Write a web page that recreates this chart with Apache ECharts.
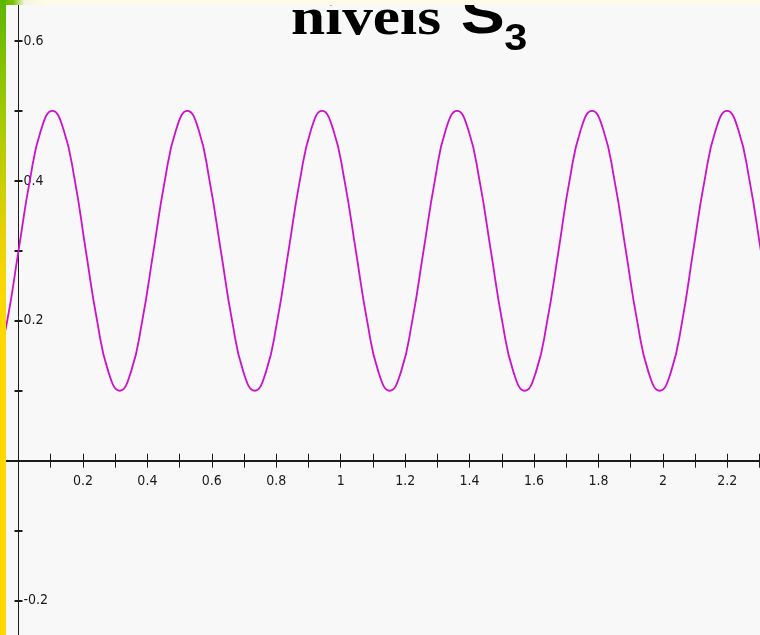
<!DOCTYPE html>
<html>
<head>
<meta charset="utf-8">
<script src="https://cdn.jsdelivr.net/npm/echarts@6/dist/echarts.min.js"></script>
<style>
  html, body { margin: 0; padding: 0; background: #f8f8f8; }
  #chart { width: 760px; height: 635px; }
</style>
</head>
<body>
<div id="chart"></div>
<script>
// ---- data ----
const xValues = [
  -0.070, -0.035,
  0.000, 0.035, 0.070, 0.105, 0.140, 0.175, 0.209, 0.244, 0.279, 0.314, 0.349, 0.384,
  0.419, 0.454, 0.489, 0.524, 0.559, 0.593, 0.628, 0.663, 0.698, 0.733, 0.768, 0.803,
  0.838, 0.873, 0.908, 0.942, 0.977, 1.012, 1.047, 1.082, 1.117, 1.152, 1.187, 1.222,
  1.257, 1.292, 1.326, 1.361, 1.396, 1.431, 1.466, 1.501, 1.536, 1.571, 1.606, 1.641,
  1.676, 1.710, 1.745, 1.780, 1.815, 1.850, 1.885, 1.920, 1.955, 1.990, 2.025, 2.060,
  2.094, 2.129, 2.164, 2.199, 2.234, 2.269, 2.304, 2.339
];
const yValues = [
  0.127, 0.2,
  0.3, 0.4, 0.473, 0.5, 0.473, 0.4, 0.3, 0.2, 0.127, 0.1, 0.127, 0.2,
  0.3, 0.4, 0.473, 0.5, 0.473, 0.4, 0.3, 0.2, 0.127, 0.1, 0.127, 0.2,
  0.3, 0.4, 0.473, 0.5, 0.473, 0.4, 0.3, 0.2, 0.127, 0.1, 0.127, 0.2,
  0.3, 0.4, 0.473, 0.5, 0.473, 0.4, 0.3, 0.2, 0.127, 0.1, 0.127, 0.2,
  0.3, 0.4, 0.473, 0.5, 0.473, 0.4, 0.3, 0.2, 0.127, 0.1, 0.127, 0.2,
  0.3, 0.4, 0.473, 0.5, 0.473, 0.4, 0.3, 0.2
];
const xTickLabels = ['0.2', '0.4', '0.6', '0.8', '1', '1.2', '1.4', '1.6', '1.8', '2', '2.2'];
const yTickLabels = ['-0.2', '0.2', '0.4', '0.6'];
const titleMain = 'níveis';
const titleSymbol = 'S';
const titleSub = '3';

// ---- chart ----
const chart = echarts.init(document.getElementById('chart'), null, { renderer: 'canvas' });

const labelFont = '"Liberation Sans Narrow", "DejaVu Sans Condensed", "Arial Narrow", sans-serif';
function fmt(list) {
  return function (v) {
    const s = String(Math.round(v * 10) / 10);
    return list.indexOf(s) >= 0 ? s : '';
  };
}
const axisColor = '#1c1c1c';
const seriesData = xValues.map((x, i) => [x, yValues[i]]);

// plot geometry (pixels): x=0 at 18.5, y=0 at 460.7
const L = -13.72, R = -31.8, T = -29, B = -35.6;
const ZX = 18.5, ZY = 460.7;
const W = 760, H = 635;

function hiddenAxis(min, max) {
  return { type: 'value', min: min, max: max, interval: 0.1, show: false };
}

const option = {
  backgroundColor: '#f8f8f8',
  animation: false,
  grid: [
    { left: L, right: R, top: T, bottom: B, outerBoundsMode: 'none', containLabel: false },          // 0 data
    { left: L, right: R, top: T, bottom: H - ZY, outerBoundsMode: 'none', containLabel: false },     // 1 upper half
    { left: L, right: R, top: ZY, bottom: B, outerBoundsMode: 'none', containLabel: false },         // 2 lower half
    { left: L, right: W - ZX, top: T, bottom: B, outerBoundsMode: 'none', containLabel: false },     // 3 left part
    { left: ZX, right: R, top: T, bottom: B, outerBoundsMode: 'none', containLabel: false }          // 4 right part
  ],
  xAxis: [
    Object.assign(hiddenAxis(-0.1, 2.4), { gridIndex: 0 }),
    {
      gridIndex: 1, type: 'value', min: -0.1, max: 2.4, interval: 0.1, position: 'bottom',
      axisLine: { show: true, onZero: false, lineStyle: { color: axisColor, width: 2 } },
      axisTick: { show: true, inside: false, length: 7, lineStyle: { color: axisColor, width: 1 } },
      axisLabel: { show: true, margin: 14, formatter: fmt(xTickLabels), color: '#1a1a1a',
                   fontFamily: labelFont, fontSize: 14 },
      splitLine: { show: false }
    },
    {
      gridIndex: 2, type: 'value', min: -0.1, max: 2.4, interval: 0.1, position: 'top',
      axisLine: { show: false, onZero: false },
      axisTick: { show: true, inside: false, length: 7, lineStyle: { color: axisColor, width: 1 } },
      axisLabel: { show: false },
      splitLine: { show: false }
    },
    Object.assign(hiddenAxis(-0.1, 0), { gridIndex: 3 }),
    Object.assign(hiddenAxis(0, 2.4), { gridIndex: 4 })
  ],
  yAxis: [
    Object.assign(hiddenAxis(-0.3, 0.7), { gridIndex: 0 }),
    Object.assign(hiddenAxis(0, 0.7), { gridIndex: 1 }),
    Object.assign(hiddenAxis(-0.3, 0), { gridIndex: 2 }),
    {
      gridIndex: 3, type: 'value', min: -0.3, max: 0.7, interval: 0.1, position: 'right',
      axisLine: { show: true, onZero: false, lineStyle: { color: axisColor, width: 1 } },
      axisTick: { show: true, inside: false, length: 4, lineStyle: { color: axisColor, width: 2 } },
      axisLabel: { show: true, margin: 5, formatter: fmt(yTickLabels), color: '#1a1a1a',
                   fontFamily: labelFont, fontSize: 14 },
      splitLine: { show: false }
    },
    {
      gridIndex: 4, type: 'value', min: -0.3, max: 0.7, interval: 0.1, position: 'left',
      axisLine: { show: false, onZero: false },
      axisTick: { show: true, inside: false, length: 4, lineStyle: { color: axisColor, width: 2 } },
      axisLabel: { show: false },
      splitLine: { show: false }
    }
  ],
  series: [
    {
      type: 'line', xAxisIndex: 0, yAxisIndex: 0,
      data: seriesData, smooth: 0.5, showSymbol: false, symbol: 'none',
      lineStyle: { color: '#cc10cc', width: 1.8 }, clip: true, z: 3
    }
  ],
  graphic: [
    {
      type: 'text', z: 10, x: 291, y: 0, scaleX: 1.18, scaleY: 1,
      style: { text: titleMain, x: 0, y: 20.3, fill: '#000', align: 'left', verticalAlign: 'middle',
               font: 'bold 52px "Liberation Serif", "Times New Roman", serif' }
    },
    {
      type: 'text', z: 10, x: 460.7, y: 0, scaleX: 1.18, scaleY: 1,
      style: { text: titleSymbol, x: 0, y: 17.3, fill: '#000', align: 'left', verticalAlign: 'middle',
               font: 'bold 56px "Liberation Sans", Arial, sans-serif' }
    },
    {
      type: 'text', z: 10, x: 504.3, y: 0, scaleX: 1.15, scaleY: 1,
      style: { text: titleSub, x: 0, y: 40.5, fill: '#000', align: 'left', verticalAlign: 'middle',
               font: 'bold 36px "Liberation Sans", Arial, sans-serif' }
    },
    {
      type: 'rect', z: 20,
      shape: { x: 0, y: 0, width: 760, height: 5 },
      style: { fill: { type: 'linear', x: 0, y: 0, x2: 1, y2: 0, colorStops: [
        { offset: 0, color: '#62b800' }, { offset: 0.017, color: '#7cc000' },
        { offset: 0.032, color: '#f4f6dc' }, { offset: 0.06, color: '#fffbe8' }, { offset: 1, color: '#fffbe8' }
      ] } }
    },
    {
      type: 'rect', z: 21,
      shape: { x: 0, y: 0, width: 6, height: 635 },
      style: { fill: { type: 'linear', x: 0, y: 0, x2: 0, y2: 1, colorStops: [
        { offset: 0, color: '#5cb600' }, { offset: 0.19, color: '#a6cb00' },
        { offset: 0.36, color: '#e4d100' }, { offset: 0.47, color: '#ffd800' }, { offset: 1, color: '#ffd800' }
      ] } }
    }
  ]
};
chart.setOption(option);
</script>
</body>
</html>
